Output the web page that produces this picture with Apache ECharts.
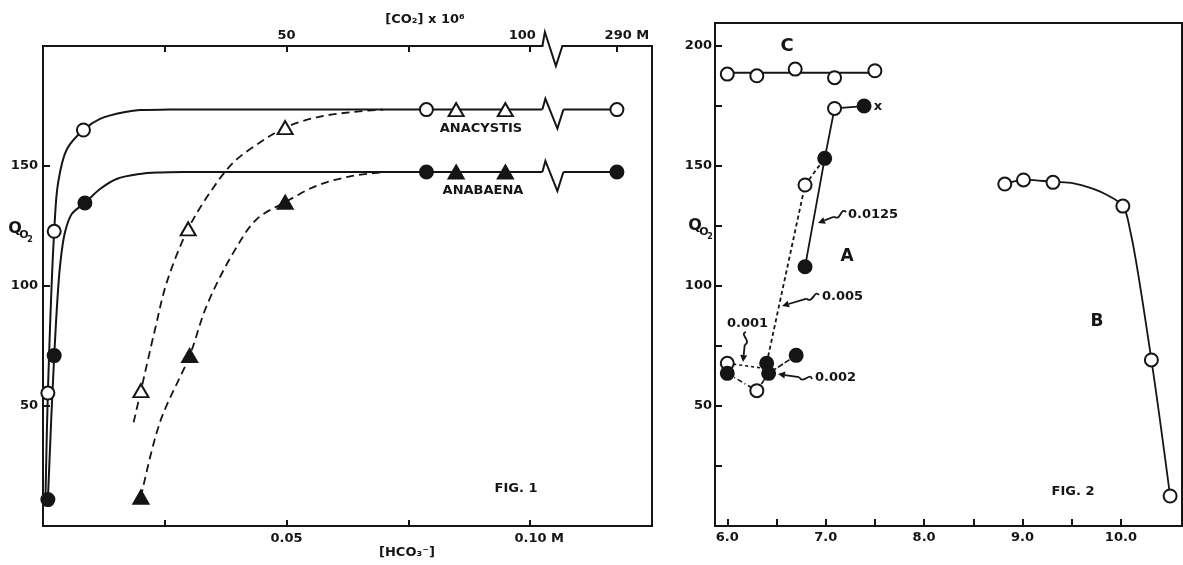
<!DOCTYPE html>
<html><head><meta charset="utf-8">
<script src="https://cdn.jsdelivr.net/npm/echarts@6/dist/echarts.min.js"></script>
<style>html,body{margin:0;padding:0;background:#fff}#c{width:1183px;height:565px}</style>
</head><body><div id="c"></div>
<script>
// ---------- FIG. 1 : x = [HCO3-] (M), y = Q_O2 ----------
const ANACYSTIS_CIRCLES   = [[0.001,55.4],[0.0023,122.8],[0.0083,165],[0.0787,173.5],[0.29,173.5]];
const ANACYSTIS_TRIANGLES = [[0.0201,56.4],[0.0298,123.8],[0.0497,166],[0.0848,173.5],[0.0949,173.5]];
const ANABAENA_CIRCLES    = [[0.001,11],[0.0023,71],[0.0086,134.6],[0.0787,147.5],[0.29,147.5]];
const ANABAENA_TRIANGLES  = [[0.0201,12],[0.0301,71],[0.0497,134.9],[0.0848,147.5],[0.0949,147.5]];
// fitted curves as drawn in the figure
const ANACYSTIS_CURVE = [[0.0005,11],[0.001,55.4],[0.0023,122.8],[0.0031,143],[0.0049,157],[0.0083,165],[0.0117,169.6],[0.0172,172.6],[0.0199,173.3],[0.026,173.5],[0.04,173.5],[0.0787,173.5],[0.0949,173.5],[0.29,173.5]];
const ANABAENA_CURVE  = [[0.001,11],[0.0023,71],[0.0035,108.5],[0.0045,122.3],[0.0059,130],[0.0086,134.6],[0.0117,140.4],[0.0151,144.6],[0.0199,146.7],[0.024,147.3],[0.03,147.5],[0.045,147.5],[0.0787,147.5],[0.0949,147.5],[0.29,147.5]];
const ANACYSTIS_DASHED = [[0.0186,43.2],[0.0201,56.4],[0.023,82],[0.0254,101.5],[0.0298,123.8],[0.0343,139],[0.0391,151.5],[0.0446,159.9],[0.0497,166],[0.0562,170.3],[0.0631,172.4],[0.0698,173.5]];
const ANABAENA_DASHED  = [[0.0201,12],[0.024,43.2],[0.0301,71],[0.0336,91.8],[0.0391,114],[0.0439,127.9],[0.0497,134.9],[0.0562,141.8],[0.0631,145.7],[0.0699,147.4]];
const HCO3_TICKS = [0.025,0.05,0.075,0.1];
const HCO3_LABEL_VALUES = [0.05,0.1];
const HCO3_LABELS = ['0.05','0.10 M'];
const CO2_TICKS = [25,50,75,100,290];       // [CO2] x 10^6
const CO2_LABEL_VALUES = [50,100,290];
const CO2_LABELS = ['50','100','290 M'];
const Q1_TICKS = [50,100,150];
// axis break on Fig. 1 (HCO3 units)
const BREAK_FROM = 0.1025, BREAK_END = 0.1068, BREAK_TO = 0.279;

// ---------- FIG. 2 : x = pH, y = Q_O2 ----------
const C_POINTS = [[6.0,188.3],[6.3,187.6],[6.69,190.4],[7.09,186.8],[7.5,189.7]];
const C_LINE   = [[6.0,188.9],[7.5,188.9]];
const A_OPEN   = [[6.0,67.8],[6.3,56.4],[6.79,142.1],[7.09,174]];
const A_FILLED = [[6.0,63.6],[6.4,67.8],[6.42,63.6],[6.7,71.1],[6.79,108],[6.99,153.2],[7.39,175]];
const A_LINE_0125 = [[6.79,108],[6.99,153.2],[7.09,174],[7.39,175]];
const A_LINE_005  = [[6.4,67.8],[6.79,142.1],[6.99,153.2]];
const A_LINE_002  = [[6.3,56.4],[6.42,63.6],[6.7,71.1]];
const A_LINE_001  = [[6.0,67.8],[6.41,65.5]];
const A_LINE_LOW  = [[6.0,63.6],[6.3,56.4]];
const B_POINTS = [[8.82,142.5],[9.01,144.2],[9.31,143.2],[10.02,133.3],[10.31,69.2],[10.5,12.5]];
const B_CURVE  = [[8.82,142.5],[9.01,144.2],[9.31,143.4],[9.52,142.8],[9.69,140.9],[9.86,137.9],[10.02,133.3],[10.1,122],[10.31,69.2],[10.5,12.5]];
const PH_TICKS = [6,6.5,7,7.5,8,8.5,9,9.5,10];
const PH_LABEL_VALUES = [6,7,8,9,10];
const Q2_TICKS = [25,50,75,100,125,150,175,200];
const Q2_LABEL_VALUES = [50,100,150,200];

// ---------- rendering ----------
const INK = '#151515';
const FONT = 'DejaVu Sans';
function bx(v){ return v >= BREAK_TO ? v - BREAK_TO + BREAK_END : v; }
const co2Pos = v => bx(v/1000);

function lineS(data, style, xi, yi, name){
  return {type:'line', name, xAxisIndex:xi, yAxisIndex:yi, data, showSymbol:false, silent:true, smooth:false,
    lineStyle:Object.assign({color:INK, width:2}, style), z:2, animation:false};
}
// smooth curve: centripetal Catmull-Rom through the points, positioned through the axes (api.coord)
function curveS(data, style, xi, yi){
  return {type:'custom', xAxisIndex:xi, yAxisIndex:yi, data:[[data[0][0], data[0][1]]], silent:true, z:2, animation:false, clip:false,
    renderItem(params, api){
      const P = data.map(p => api.coord([p[0], p[1]]));
      let d = 'M' + P[0][0] + ' ' + P[0][1];
      for (let i = 0; i < P.length - 1; i++){
        const p0 = P[Math.max(i-1,0)], p1 = P[i], p2 = P[i+1], p3 = P[Math.min(i+2, P.length-1)];
        const a = 0.5;
        const d1 = Math.pow(Math.hypot(p1[0]-p0[0], p1[1]-p0[1]), a) || 1e-6;
        const d2 = Math.pow(Math.hypot(p2[0]-p1[0], p2[1]-p1[1]), a) || 1e-6;
        const d3 = Math.pow(Math.hypot(p3[0]-p2[0], p3[1]-p2[1]), a) || 1e-6;
        let b1, b2;
        if (i === 0) b1 = p1; else b1 = [0,1].map(k => (d1*d1*p2[k] - d2*d2*p0[k] + (2*d1*d1 + 3*d1*d2 + d2*d2)*p1[k]) / (3*d1*(d1+d2)));
        if (i === P.length - 2) b2 = p2; else b2 = [0,1].map(k => (d3*d3*p1[k] - d2*d2*p3[k] + (2*d3*d3 + 3*d3*d2 + d2*d2)*p2[k]) / (3*d3*(d3+d2)));
        d += ' C' + b1[0] + ' ' + b1[1] + ' ' + b2[0] + ' ' + b2[1] + ' ' + p2[0] + ' ' + p2[1];
      }
      return {type:'path', shape:{pathData:d}, style:Object.assign({stroke:INK, fill:null, lineWidth:2}, style)};
    }};
}
function splitCurve(pts, style){
  const pre = pts.filter(p => p[0] < BREAK_FROM).map(p => p.slice());
  const post = pts.filter(p => p[0] >= BREAK_TO);
  const out = [];
  if (post.length) pre.push([BREAK_FROM, pre[pre.length-1][1]]);
  out.push(curveS(pre, style, 0, 0));
  if (post.length){
    const seg = [[BREAK_END, post[0][1]]].concat(post.map(p => [bx(p[0]), p[1]]));
    out.push(lineS(seg, {}, 0, 0, 'post'));
  }
  return out;
}
function markS(data, symbol, filled, xi, yi, size){
  return {type:'scatter', xAxisIndex:xi, yAxisIndex:yi, data, symbol, symbolSize:size, silent:true,
    itemStyle:{color: filled ? INK : '#fff', borderColor:INK, borderWidth:2, opacity:1}, z:5, animation:false};
}
const axLabel = {color:INK, fontFamily:FONT, fontWeight:'bold', fontSize:13};

const series = [];
series.push(...splitCurve(ANACYSTIS_CURVE, {}));
series.push(...splitCurve(ANABAENA_CURVE, {}));
series.push(curveS(ANACYSTIS_DASHED, {lineDash:[8,5], lineWidth:1.8}, 0, 0));
series.push(curveS(ANABAENA_DASHED, {lineDash:[8,5], lineWidth:1.8}, 0, 0));
series.push(markS(ANACYSTIS_CIRCLES.map(p=>[bx(p[0]),p[1]]), 'circle', false, 0, 0, 13));
series.push(markS(ANABAENA_CIRCLES.map(p=>[bx(p[0]),p[1]]), 'circle', true, 0, 0, 13));
series.push(markS(ANACYSTIS_TRIANGLES.map(p=>[bx(p[0]),p[1]]), 'triangle', false, 0, 0, [15,13]));
series.push(markS(ANABAENA_TRIANGLES.map(p=>[bx(p[0]),p[1]]), 'triangle', true, 0, 0, [15,13]));
// break zig-zags (top axis + both plateau lines)
const zigRows = [[BREAK_FROM, 200, 1],
  [BREAK_FROM, ANACYSTIS_CIRCLES[ANACYSTIS_CIRCLES.length-1][1], 0],
  [BREAK_FROM, ANABAENA_CIRCLES[ANABAENA_CIRCLES.length-1][1], 0]];
series.push({type:'custom', xAxisIndex:0, yAxisIndex:0, data:zigRows, clip:false, silent:true, z:6, animation:false,
  renderItem(params, api){
    const p = api.coord([api.value(0), api.value(1)]);
    const isAxis = api.value(2) === 1;
    const pts = isAxis ? [[0,0],[2.5,-14],[13.5,20],[20,0]] : [[0,0],[3,-11],[15,19],[21,0]];
    return {type:'group', children:[
      {type:'line', shape:{x1:p[0]+1, y1:p[1], x2:p[0]+pts[3][0]-1, y2:p[1]}, style:{stroke:'#fff', lineWidth:5}},
      {type:'polyline', shape:{points:pts.map(q=>[p[0]+q[0], p[1]+q[1]])}, style:{stroke:INK, fill:null, lineWidth:2}}
    ]};
  }});

// Fig. 2
series.push(lineS(C_LINE, {}, 2, 1, 'c'));
series.push(lineS(A_LINE_0125, {width:1.8}, 2, 1, 'a0125'));
series.push(lineS(A_LINE_005, {type:[4,3], width:1.8}, 2, 1, 'a005'));
series.push(lineS(A_LINE_002, {type:[6,2], width:1.6}, 2, 1, 'a002'));
series.push(lineS(A_LINE_001, {type:[3,3], width:1.6}, 2, 1, 'a001'));
series.push(lineS(A_LINE_LOW, {type:[5,3,1,3], width:1.6}, 2, 1, 'alow'));
series.push(curveS(B_CURVE, {lineWidth:1.8}, 2, 1));
series.push(markS(C_POINTS, 'circle', false, 2, 1, 13));
series.push(markS(A_OPEN, 'circle', false, 2, 1, 13));
series.push(markS(A_FILLED, 'circle', true, 2, 1, 13));
series.push(markS(B_POINTS, 'circle', false, 2, 1, 13));

function idxOf(vals, v){ return vals.findIndex(x => Math.abs(x - v) < 1e-9); }
const CO2_LABEL_POS = CO2_LABEL_VALUES.map(co2Pos);
const richBase = {fontFamily:FONT, fontWeight:'bold', fontSize:13, color:INK};

const option = {
  backgroundColor:'#fff',
  animation:false,
  textStyle:{fontFamily:FONT},
  grid:[
    {left:43, top:46, width:609, height:480, show:true, borderColor:INK, borderWidth:2},
    {left:715, top:23, width:467, height:503, show:true, borderColor:INK, borderWidth:2}
  ],
  xAxis:[
    {gridIndex:0, type:'value', position:'bottom', min:0, max:0.125, splitLine:{show:false},
     axisLine:{lineStyle:{color:INK, width:2}},
     axisTick:{inside:true, length:6, lineStyle:{color:INK, width:2}, customValues:HCO3_TICKS},
     axisLabel:Object.assign({margin:6, customValues:HCO3_LABEL_VALUES,
       formatter: v => { const i = idxOf(HCO3_LABEL_VALUES, v); if (i < 0) return ''; return i === 1 ? '{r|' + HCO3_LABELS[i] + '}' : HCO3_LABELS[i]; },
       rich:{r:Object.assign({padding:[0,0,0,18]}, richBase)}}, axLabel)},
    {gridIndex:0, type:'value', position:'top', min:0, max:0.125, splitLine:{show:false},
     axisLine:{lineStyle:{color:INK, width:2}},
     axisTick:{inside:true, length:6, lineStyle:{color:INK, width:2}, customValues:CO2_TICKS.map(co2Pos)},
     axisLabel:Object.assign({margin:4, customValues:CO2_LABEL_POS,
       formatter: v => {
         const i = idxOf(CO2_LABEL_POS, v);
         if (i === 1) return '{l|' + CO2_LABELS[1] + '}';
         if (i === 2) return '{r|' + CO2_LABELS[2] + '}';
         return i < 0 ? '' : CO2_LABELS[i];
       },
       rich:{l:Object.assign({padding:[0,16,0,0]}, richBase), r:Object.assign({padding:[0,0,0,20]}, richBase)}}, axLabel)},
    {gridIndex:1, type:'value', position:'bottom', min:5.875, max:10.621, splitLine:{show:false},
     axisLine:{lineStyle:{color:INK, width:2}},
     axisTick:{inside:true, length:7, lineStyle:{color:INK, width:2}, customValues:PH_TICKS},
     axisLabel:Object.assign({margin:5, customValues:PH_LABEL_VALUES, formatter: v => v.toFixed(1)}, axLabel)}
  ],
  yAxis:[
    {gridIndex:0, type:'value', min:0, max:200, splitLine:{show:false},
     axisLine:{lineStyle:{color:INK, width:2}},
     axisTick:{inside:true, length:7, lineStyle:{color:INK, width:2}, customValues:Q1_TICKS},
     axisLabel:Object.assign({margin:5, customValues:Q1_TICKS}, axLabel)},
    {gridIndex:1, type:'value', min:0, max:209.6, splitLine:{show:false},
     axisLine:{lineStyle:{color:INK, width:2}},
     axisTick:{inside:true, length:7, lineStyle:{color:INK, width:2}, customValues:Q2_TICKS},
     axisLabel:Object.assign({margin:3, customValues:Q2_LABEL_VALUES}, axLabel)}
  ],
  series
};

// ---- annotations (text + squiggly arrows) ----
const T = (text, x, y, size, align) => ({type:'text', x, y, silent:true, z:10,
  style:{text, fill:INK, font:'bold ' + (size||13) + 'px "' + FONT + '"', align:align||'center', verticalAlign:'middle'}});
function squiggle(S, H){
  const dx = H[0]-S[0], dy = H[1]-S[1], L = Math.hypot(dx,dy);
  const d = [dx/L, dy/L], n = [-d[1], d[0]];
  const P = (a,b) => [S[0]+d[0]*a+n[0]*b, S[1]+d[1]*a+n[1]*b];
  const c1 = P(3,7), c2 = P(8,-7), e = P(13,0);
  const base = [H[0]-d[0]*7, H[1]-d[1]*7];
  return [
    {type:'bezierCurve', silent:true, z:10,
     shape:{x1:S[0], y1:S[1], cpx1:c1[0], cpy1:c1[1], cpx2:c2[0], cpy2:c2[1], x2:e[0], y2:e[1]},
     style:{stroke:INK, fill:null, lineWidth:1.8}},
    {type:'line', silent:true, z:10, shape:{x1:e[0], y1:e[1], x2:base[0], y2:base[1]},
     style:{stroke:INK, lineWidth:1.8}},
    {type:'polygon', silent:true, z:10,
     shape:{points:[H,[base[0]+n[0]*3.5, base[1]+n[1]*3.5],[base[0]-n[0]*3.5, base[1]-n[1]*3.5]]},
     style:{fill:INK}}
  ];
}
const qLabel = (x, y) => [
  {type:'text', x, y, silent:true, style:{text:'Q', fill:INK, font:'bold 16px "'+FONT+'"', align:'center', verticalAlign:'middle'}},
  {type:'text', x:x+9, y:y+6, silent:true, style:{text:'O', fill:INK, font:'bold 11px "'+FONT+'"', align:'center', verticalAlign:'middle'}},
  {type:'text', x:x+15, y:y+11, silent:true, style:{text:'2', fill:INK, font:'bold 8px "'+FONT+'"', align:'center', verticalAlign:'middle'}}
];
option.graphic = {elements:[
  T('[CO₂] x 10⁶', 425, 20, 13),
  T('[HCO₃⁻]', 407, 553, 13),
  T('ANACYSTIS', 481, 129, 13),
  T('ANABAENA', 483, 191, 13),
  T('FIG. 1', 516, 489, 13),
  ...qLabel(15, 229),
  T('C', 787, 46, 18),
  T('A', 847, 257, 17),
  T('B', 1097, 322, 17),
  T('x', 878, 107, 13),
  T('FIG. 2', 1073, 492, 13),
  T('0.0125', 848, 215, 13, 'left'),
  T('0.005', 822, 297, 13, 'left'),
  T('0.001', 727, 324, 13, 'left'),
  T('0.002', 815, 378, 13, 'left'),
  ...squiggle([846,212],[818,223]),
  ...squiggle([819,295],[782,306]),
  ...squiggle([746,332],[743,362]),
  ...squiggle([812,379],[778,374]),
  ...qLabel(695, 226)
]};

const chart = echarts.init(document.getElementById('c'), null, {renderer:'canvas'});
try { chart.setOption(option); } catch (e) { console.error('setOption failed: ' + e.message + '\n' + e.stack); }
</script>
</body></html>
